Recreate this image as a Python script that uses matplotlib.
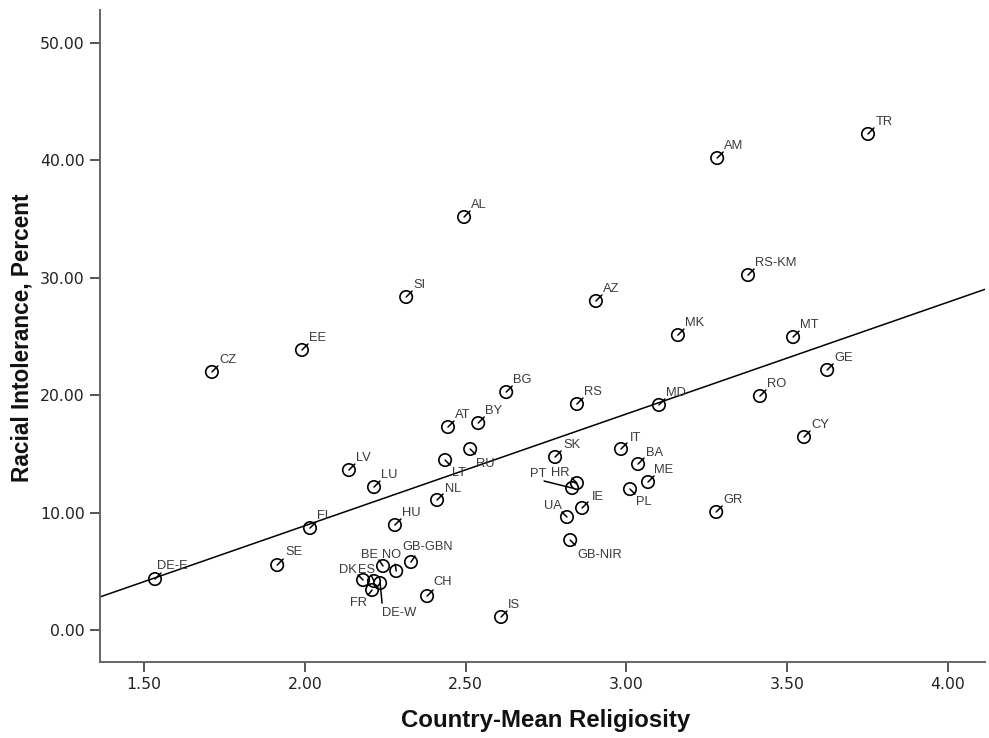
import numpy as np
import matplotlib
matplotlib.use('Agg')
import matplotlib.pyplot as plt

# ---- data ----
countries = ['DE-E', 'CZ', 'EE', 'SI', 'AL', 'SE', 'FI', 'LV', 'LU', 'HU',
             'NL', 'LT', 'RU', 'AT', 'BY', 'BG', 'RS', 'AZ', 'SK', 'PT',
             'HR', 'IE', 'UA', 'GB-NIR', 'IT', 'BA', 'ME', 'PL', 'MK', 'MD',
             'AM', 'RS-KM', 'MT', 'GE', 'RO', 'CY', 'GR', 'TR', 'IS', 'CH',
             'GB-GBN', 'NO', 'BE', 'DK', 'ES', 'DE-W', 'FR']
religiosity = [1.534, 1.711, 1.991, 2.315, 2.495, 1.914, 2.016, 2.137, 2.215, 2.280,
               2.411, 2.436, 2.514, 2.445, 2.539, 2.626, 2.846, 2.905, 2.778, 2.831,
               2.846, 2.862, 2.815, 2.825, 2.983, 3.036, 3.067, 3.011, 3.160, 3.101,
               3.282, 3.378, 3.518, 3.624, 3.415, 3.552, 3.279, 3.751, 2.610, 2.380,
               2.330, 2.284, 2.243, 2.181, 2.215, 2.234, 2.209]
intolerance = [4.34, 21.97, 23.84, 28.35, 35.16, 5.53, 8.68, 13.62, 12.17, 8.94,
               11.07, 14.47, 15.41, 17.28, 17.62, 20.26, 19.24, 28.01, 14.73, 12.09,
               12.51, 10.39, 9.62, 7.66, 15.41, 14.13, 12.60, 12.00, 25.11, 19.16,
               40.18, 30.22, 24.94, 22.14, 19.92, 16.43, 10.05, 42.23, 1.11, 2.89,
               5.79, 5.02, 5.45, 4.26, 4.17, 4.00, 3.41]

x_ticks = [1.5, 2.0, 2.5, 3.0, 3.5, 4.0]
y_ticks = [0, 10, 20, 30, 40, 50]
x_label = 'Country-Mean Religiosity'
y_label = 'Racial Intolerance, Percent'

# ---- label placement (pixels; dx right, dy up) ----
DEFAULT = (7, 9, 'left', 6, 6)
placement = {
    'DE-E': (2, 10, 'left', 6, 6),
    'SE': (8, 10, 'left', 6, 6),
    'NL': (8, 8, 'left', 6, 6),
    'LT': (7, -16, 'left', 5, -5),
    'RU': (6, -18, 'left', 5, -5),
    'PT': (-26, 11, 'right', -28, 7),
    'HR': (-7, 7, 'right', -5, 5),
    'UA': (-5, 8, 'right', -5, 5),
    'PL': (6, -16, 'left', 5, -5),
    'GB-NIR': (7, -18, 'left', 5, -5),
    'IE': (10, 8, 'left', 6, 6),
    'SK': (8, 9, 'left', 6, 6),
    'IT': (9, 8, 'left', 6, 6),
    'BA': (8, 8, 'left', 6, 6),
    'ME': (6, 9, 'left', 6, 6),
    'FR': (-5, -16, 'right', -4, -5),
    'DE-W': (2, -33, 'left', 2, -20),
    'DK': (-6, 7, 'right', -5, 5),
    'ES': (1, 8, 'right', -3, 6),
    'BE': (-5, 8, 'right', -4, 6),
    'NO': (-14, 13, 'left', -1, 7),
    'GB-GBN': (-9, 12, 'left', 4, 6),
    'CH': (6, 11, 'left', 6, 6),
    'TR': (8, 9, 'left', 6, 6),
}

PX = 72.0 / 100.0  # pixels -> points
W, H = 989, 738

fig = plt.figure(figsize=(W / 100, H / 100), dpi=100)
ax = fig.add_axes([0.1011, 0.1030, 0.8949, 0.8834])
ax.set_xlim(1.363, 4.115)
ax.set_ylim(-2.72, 52.78)

# regression line from the data
slope, intercept = np.polyfit(religiosity, intolerance, 1)
xl = np.array(ax.get_xlim())
ax.plot(xl, intercept + slope * xl, color='black', lw=1.1, zorder=2,
        solid_capstyle='butt')

ax.scatter(religiosity, intolerance, s=80, facecolors='none',
           edgecolors='black', linewidths=1.2, zorder=3)

for name, xv, yv in zip(countries, religiosity, intolerance):
    dx, dy, ha, ldx, ldy = placement.get(name, DEFAULT)
    ax.annotate('', xy=(xv, yv), xytext=(ldx * PX, ldy * PX),
                textcoords='offset points',
                arrowprops=dict(arrowstyle='-', color='black', lw=1.1,
                                shrinkA=0, shrinkB=0), zorder=4)
    ax.annotate(name, xy=(xv, yv), xytext=(dx * PX, dy * PX),
                textcoords='offset points', ha=ha, va='baseline',
                fontsize=9.3, color='#3a3a3a', family='Liberation Sans',
                zorder=5)

ax.set_xticks(x_ticks)
ax.set_xticklabels([f'{v:.2f}' for v in x_ticks])
ax.set_yticks(y_ticks)
ax.set_yticklabels([f'{v:.2f}' for v in y_ticks])
ax.tick_params(axis='both', direction='out', length=7, width=1.4,
               color='#555555', labelsize=11.3, labelcolor='#222222', pad=4)
for lab in ax.get_xticklabels() + ax.get_yticklabels():
    lab.set_family('DejaVu Sans')

for side in ['top', 'right']:
    ax.spines[side].set_visible(False)
for side in ['left', 'bottom']:
    ax.spines[side].set_color('#666666')
    ax.spines[side].set_linewidth(1.4)

fig.text(546 / W, 1 - 720 / H, x_label, fontsize=17.3, fontweight='bold',
         family='Liberation Sans', color='#111111', ha='center', va='center')
fig.text(22 / W, 1 - 338 / H, y_label, fontsize=16.3, fontweight='bold',
         family='Liberation Sans', color='#111111', ha='center', va='center',
         rotation=90)

fig.savefig('out.png', dpi=100, facecolor='white')
